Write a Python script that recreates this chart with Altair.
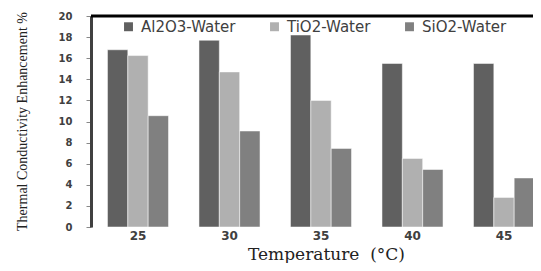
import altair as alt
import pandas as pd

temps = ["25", "30", "35", "40", "45"]
series = ["Al2O3-Water", "TiO2-Water", "SiO2-Water"]
al2o3 = [16.8, 17.7, 18.2, 15.5, 15.5]
tio2 = [16.25, 14.7, 12.0, 6.5, 2.8]
sio2 = [10.55, 9.1, 7.45, 5.45, 4.65]
colors = ["#606060", "#b0b0b0", "#808080"]

rows = []
for name, vals in zip(series, [al2o3, tio2, sio2]):
    for t, v in zip(temps, vals):
        rows.append({"temp": t, "series": name, "value": v})
df = pd.DataFrame(rows)

bars = alt.Chart(df).mark_bar(stroke="white", strokeWidth=0.5).encode(
    x=alt.X("temp:N", sort=temps,
            scale=alt.Scale(range=[0, 460], paddingInner=0.333, paddingOuter=0.18),
            axis=alt.Axis(title="Temperature \u00a0(°C)", labelAngle=0, domain=False, ticks=False,
                          labelFont="DejaVu Sans", labelFontWeight="bold", labelFontSize=12,
                          labelColor="#404040", labelPadding=3,
                          titleFont="DejaVu Serif", titleFontSize=17, titleFontWeight="normal",
                          titleColor="#222222", titleX=235, titleY=27, titleBaseline="middle")),
    xOffset=alt.XOffset("series:N", sort=series, scale=alt.Scale(paddingInner=0, paddingOuter=0)),
    y=alt.Y("value:Q", scale=alt.Scale(domain=[0, 20], nice=False),
            axis=alt.Axis(title="Thermal Conductivity Enhancement %", values=list(range(0, 21, 2)),
                          grid=False, domainColor="#404040", domainWidth=3, labelOverlap=False,
                          tickColor="#888888", tickSize=5, tickWidth=1,
                          labelFont="DejaVu Sans", labelFontWeight="bold", labelFontSize=10,
                          labelColor="#404040", labelPadding=14,
                          titleFont="Liberation Serif", titleFontSize=14, titleFontWeight="normal",
                          titleColor="#222222", titleX=-69, titleY=105, titleAngle=-90,
                          titleBaseline="middle", titleAlign="center")),
    color=alt.Color("series:N", sort=series, scale=alt.Scale(domain=series, range=colors),
                    legend=alt.Legend(title=None, orient="none", legendX=30, legendY=3,
                                      direction="horizontal", symbolType="square", symbolSize=80,
                                      symbolStrokeWidth=0, labelFont="DejaVu Sans", labelFontSize=15,
                                      labelColor="#404040", columnPadding=31, labelOffset=5)),
)

border = alt.Chart(pd.DataFrame({"v": [20]})).mark_rule(color="black", strokeWidth=3).encode(
    x=alt.value(0), x2=alt.value(460), y=alt.value(0)
)

chart = alt.layer(bars, border).properties(
    width=442, height=211,
    autosize=alt.AutoSizeParams(type="none"),
    padding={"left": 83, "top": 8, "right": 0, "bottom": 36},
).configure_view(stroke=None)

chart.save("out.html", embed_options={"renderer": "svg", "actions": False})
